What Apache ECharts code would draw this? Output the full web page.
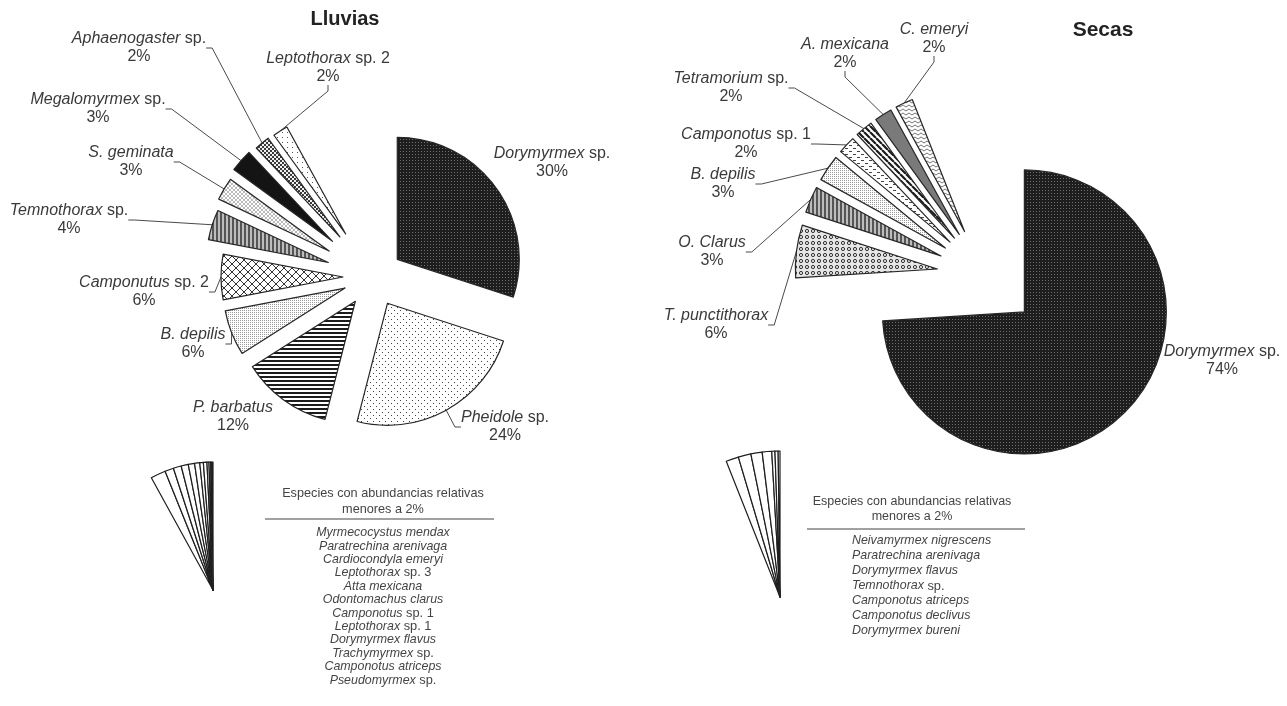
<!DOCTYPE html>
<html><head><meta charset="utf-8">
<script src="https://cdn.jsdelivr.net/npm/echarts@6/dist/echarts.min.js"></script>
<style>html,body{margin:0;padding:0;background:#fff}#c{width:1287px;height:706px}</style>
</head><body><div id="c"></div>
<script>
// ---------------- DATA ----------------
const lluviasNames = ['Dorymyrmex sp.','Pheidole sp.','P. barbatus','B. depilis','Camponutus sp. 2','Temnothorax sp.','S. geminata','Megalomyrmex sp.','Aphaenogaster sp.','Leptothorax sp. 2'];
const lluviasValues = [30,24,12,6,6,4,3,3,2,2];
const lluviasMinorNames = ['Myrmecocystus mendax','Paratrechina arenivaga','Cardiocondyla emeryi','Leptothorax sp. 3','Atta mexicana','Odontomachus clarus','Camponotus sp. 1','Leptothorax sp. 1','Dorymyrmex flavus','Trachymyrmex sp.','Camponotus atriceps','Pseudomyrmex sp.'];
const lluviasMinorValues = [1.9,1.1,1.0,0.9,0.8,0.65,0.45,0.45,0.25,0.2,0.15,0.15];

const secasNames = ['Dorymyrmex sp.','T. punctithorax','O. Clarus','B. depilis','Camponotus sp. 1','Tetramorium sp.','A. mexicana','C. emeryi'];
const secasValues = [74,6,3,3,2,2,2,2];
const secasMinorNames = ['Neivamyrmex nigrescens','Paratrechina arenivaga','Dorymyrmex flavus','Temnothorax sp.','Camponotus atriceps','Camponotus declivus','Dorymyrmex bureni'];
const secasMinorValues = [1.4,1.4,1.25,1.05,0.35,0.35,0.2];

const titles = ['Lluvias','Secas'];
const minorHeader = 'Especies con abundancias relativas\nmenores a 2%';

// ---------------- LAYOUT / STYLE ----------------
const FONT = '"Liberation Sans", Arial, Helvetica, sans-serif';
const TXT = '#3a3a3a';

const lluviasLayout = {
  center:[373,277], r:122,
  explode:[30,30,30,30,30,47,51,54,52,51],
  showLine:[false,true,false,true,true,true,true,true,true,true],
  labelPos:[[552,163],[505,427],[233,417],[193,344],[144,292],[69,220],[131,162],[98,109],[139,48],[328,68]],
  fanCenter:[213,590], fanR:128
};
const secasLayout = {
  center:[985,275], r:142,
  explode:[54,48,48,48,48,48,48,48],
  showLine:[false,true,true,true,true,true,true,true],
  labelPos:[[1222,361],[716,325],[712,252],[723,184],[746,144],[731,88],[845,54],[934,39]],
  fanCenter:[780,597], fanR:146
};

// ---------------- PATTERNS ----------------
function pat(w,h,draw){
  const c=document.createElement('canvas'); c.width=w; c.height=h;
  const g=c.getContext('2d'); draw(g,w,h);
  return {image:c, repeat:'repeat'};
}
function bg(g,w,h,col){g.fillStyle=col;g.fillRect(0,0,w,h);}
const P = {
  darkDots: pat(3,3,(g,w,h)=>{bg(g,w,h,'#1e1e1e');g.fillStyle='#6e6e6e';g.fillRect(1,1,1,1);}),
  sparseDots: pat(6,6,(g,w,h)=>{bg(g,w,h,'#fff');g.fillStyle='#444';g.fillRect(1,1,1,1);g.fillRect(4,4,1,1);}),
  hLines: pat(1,4,(g,w,h)=>{bg(g,w,h,'#fff');g.fillStyle='#1c1c1c';g.fillRect(0,0,1,2);}),
  fineDots: pat(2,2,(g,w,h)=>{bg(g,w,h,'#fff');g.fillStyle='#9a9a9a';g.fillRect(0,0,1,1);}),
  crossHatch: pat(8,8,(g,w,h)=>{bg(g,w,h,'#fff');g.strokeStyle='#333';g.lineWidth=1;g.beginPath();g.moveTo(0,0);g.lineTo(8,8);g.moveTo(8,0);g.lineTo(0,8);g.stroke();}),
  vStripes: pat(4,1,(g,w,h)=>{bg(g,w,h,'#bdbdbd');g.fillStyle='#555';g.fillRect(0,0,2,1);}),
  smallLattice: pat(4,4,(g,w,h)=>{bg(g,w,h,'#fff');g.strokeStyle='#a8a8a8';g.lineWidth=0.8;g.beginPath();g.moveTo(0,0);g.lineTo(4,4);g.moveTo(4,0);g.lineTo(0,4);g.stroke();}),
  black: '#141414',
  checker: pat(4,4,(g,w,h)=>{bg(g,w,h,'#f0f0f0');g.fillStyle='#3a3a3a';g.fillRect(0,0,2,2);g.fillRect(2,2,2,2);}),
  lightDots: pat(5,5,(g,w,h)=>{bg(g,w,h,'#fff');g.fillStyle='#555';g.fillRect(2,2,1,1);}),
  rings: pat(6,6,(g,w,h)=>{bg(g,w,h,'#e6e6e6');g.strokeStyle='#333';g.lineWidth=1;g.beginPath();g.arc(3,3,1.6,0,Math.PI*2);g.stroke();}),
  dashes: pat(8,6,(g,w,h)=>{bg(g,w,h,'#fff');g.fillStyle='#444';g.fillRect(1,1,3,1);g.fillRect(5,4,3,1);}),
  diagBold: pat(6,6,(g,w,h)=>{bg(g,w,h,'#fff');g.strokeStyle='#1c1c1c';g.lineWidth=2.2;g.beginPath();[-6,0,6].forEach(x=>{g.moveTo(x,0);g.lineTo(x+6,6);});g.stroke();}),
  gray: '#7a7a7a',
  zigzag: pat(6,4,(g,w,h)=>{bg(g,w,h,'#fff');g.strokeStyle='#777';g.lineWidth=1;g.beginPath();g.moveTo(0,3);g.lineTo(3,1);g.lineTo(6,3);g.stroke();})
};
const lluviasPatterns = [P.darkDots,P.sparseDots,P.hLines,P.fineDots,P.crossHatch,P.vStripes,P.smallLattice,P.black,P.checker,P.lightDots];
const secasPatterns = [P.darkDots,P.rings,P.vStripes,P.fineDots,P.dashes,P.diagBold,P.gray,P.zigzag];

// ---------------- HELPERS ----------------
function richName(name){
  const m = name.match(/^(.*?)( sp\..*)$/);
  return m ? '{i|'+m[1]+'}{n|'+m[2]+'}' : '{i|'+name+'}';
}
const labelRich = {
  i:{fontStyle:'italic',fontSize:16,lineHeight:18,color:TXT,fontFamily:FONT},
  n:{fontSize:16,lineHeight:18,color:TXT,fontFamily:FONT}
};
function hidden(v,name){
  return {value:v, name:name, itemStyle:{color:'rgba(0,0,0,0)',borderWidth:0}, label:{show:false}, labelLine:{show:false}};
}
const sum = a => a.reduce((s,x)=>s+x,0);

function buildPie(names, values, minorNames, minorValues, cfg, patterns){
  const minorTotal = sum(minorValues);
  const total = sum(values) + minorTotal;
  const out = [];
  let cum = 0;
  values.forEach((v,i)=>{
    const mid = (cum + v/2)/total*2*Math.PI;
    cum += v;
    const d = cfg.explode[i];
    const center = [cfg.center[0] + d*Math.sin(mid), cfg.center[1] - d*Math.cos(mid)];
    const data = values.map((w,j)=> j===i ? {
      value:w, name:names[j],
      itemStyle:{color:patterns[j], borderColor:'#262626', borderWidth:1.2},
      label:{show:true},
      labelLine:{show:cfg.showLine[j]}
    } : hidden(w,names[j]));
    data.push(hidden(minorTotal,'minor'));
    const pos = cfg.labelPos[i];
    out.push({
      type:'pie', center:center, radius:cfg.r, startAngle:90, clockwise:true,
      silent:true, animation:false, avoidLabelOverlap:false,
      emphasis:{disabled:true, scale:false},
      label:{position:'outside', align:'center', fontFamily:FONT, rich:labelRich,
        formatter:p=> richName(p.name)+'\n{n|'+p.value+'%}'},
      labelLine:{show:true, length:8, length2:6, lineStyle:{color:'#4a4a4a', width:1}},
      labelLayout:p=> p.dataIndex===i ? {x:pos[0], y:pos[1], align:'center', verticalAlign:'middle'} : {},
      data:data
    });
  });
  out.push({
    type:'pie', center:cfg.fanCenter, radius:cfg.fanR, startAngle:90, clockwise:true,
    silent:true, animation:false, emphasis:{disabled:true, scale:false},
    label:{show:false}, labelLine:{show:false},
    data:[hidden(total-minorTotal,'main')].concat(minorValues.map((v,k)=>({
      value:v, name:minorNames[k], itemStyle:{color:'#fff', borderColor:'#1e1e1e', borderWidth:1.2}
    })))
  });
  return out;
}

function listText(arr){ return arr.map(s=>{
  const m = s.match(/^(.*?)( sp\..*)$/);
  return m ? '{li|'+m[1]+'}{ln|'+m[2]+'}' : '{li|'+s+'}';
}).join('\n'); }
function listRich(lh){ return {
  li:{fontStyle:'italic',fontSize:12.4,lineHeight:lh,fill:'#444',color:'#444',fontFamily:FONT},
  ln:{fontSize:12.8,lineHeight:lh,fill:'#444',color:'#444',fontFamily:FONT}
};}

const chart = echarts.init(document.getElementById('c'), null, {renderer:'canvas'});
chart.setOption({
  backgroundColor:'#fff',
  animation:false,
  series: buildPie(lluviasNames,lluviasValues,lluviasMinorNames,lluviasMinorValues,lluviasLayout,lluviasPatterns)
    .concat(buildPie(secasNames,secasValues,secasMinorNames,secasMinorValues,secasLayout,secasPatterns)),
  graphic:[
    {type:'text', x:345, y:19, style:{text:titles[0], align:'center', verticalAlign:'middle', fontSize:20, fontWeight:'bold', fontFamily:FONT, fill:'#222'}},
    {type:'text', x:1103, y:30, style:{text:titles[1], align:'center', verticalAlign:'middle', fontSize:21, fontWeight:'bold', fontFamily:FONT, fill:'#222'}},
    {type:'text', x:383, y:485, style:{text:minorHeader, align:'center', verticalAlign:'top', fontSize:12.7, lineHeight:16, fontFamily:FONT, fill:'#444'}},
    {type:'line', shape:{x1:265,y1:519,x2:494,y2:519}, style:{stroke:'#444', lineWidth:1.2}},
    {type:'text', x:383, y:526, style:{text:listText(lluviasMinorNames), align:'center', verticalAlign:'top', rich:listRich(13.4), fontSize:12.4, lineHeight:13.4, fontFamily:FONT, fill:'#444'}},
    {type:'text', x:912, y:494.5, style:{text:minorHeader, align:'center', verticalAlign:'top', fontSize:12.5, lineHeight:15, fontFamily:FONT, fill:'#444'}},
    {type:'line', shape:{x1:807,y1:529,x2:1025,y2:529}, style:{stroke:'#444', lineWidth:1.2}},
    {type:'text', x:852, y:533.5, style:{text:listText(secasMinorNames), align:'left', verticalAlign:'top', rich:listRich(15), fontSize:12.4, lineHeight:15, fontFamily:FONT, fill:'#444'}}
  ]
});
</script></body></html>
